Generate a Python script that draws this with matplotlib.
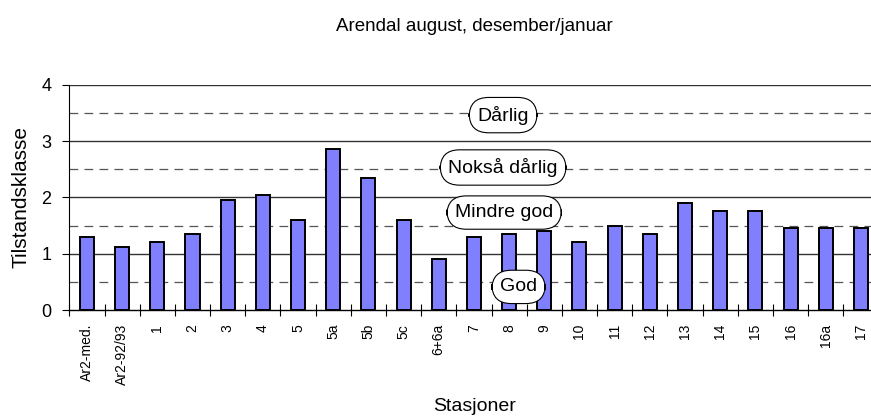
import matplotlib
matplotlib.use("Agg")
import matplotlib.pyplot as plt
import numpy as np

plt.rcParams['font.family'] = ['Liberation Sans', 'DejaVu Sans']

stations = ['Ar2-med.', 'Ar2-92/93', '1', '2', '3', '4', '5', '5a', '5b', '5c',
            '6+6a', '7', '8', '9', '10', '11', '12', '13', '14', '15', '16',
            '16a', '17']
values = [1.3, 1.12, 1.2, 1.35, 1.95, 2.05, 1.6, 2.85, 2.35, 1.6,
          0.9, 1.3, 1.35, 1.4, 1.2, 1.5, 1.35, 1.9, 1.75, 1.75, 1.45,
          1.45, 1.45]

class_names = ['God', 'Mindre god', 'Nokså dårlig', 'Dårlig']
class_x = [12.27, 11.86, 11.83, 11.83]
class_y = [0.41, 1.73, 2.53, 3.46]


def main():
    fig = plt.figure(figsize=(8.71, 4.16), dpi=100)
    ax = fig.add_axes([0.0796, 0.2548, 0.929, 0.5416])

    x = np.arange(len(stations))

    # class boundaries (dashed) and whole numbers (solid)
    for y in [0.5, 1.5, 2.5, 3.5]:
        ax.axhline(y, color='#555555', lw=0.9, ls=(0, (7, 5)), zorder=1)
    for y in [1, 2, 3, 4]:
        ax.axhline(y, color='#333333', lw=1.0, zorder=1)

    ax.bar(x, values, width=0.4, color='#8080FF', edgecolor='black',
           linewidth=1.4, zorder=3)

    for name, cx, cy in zip(class_names, class_x, class_y):
        ax.text(cx, cy, name, ha='center', va='center', fontsize=14, zorder=5,
                bbox=dict(boxstyle='round,pad=0.42,rounding_size=1.0',
                          fc='white', ec='black', lw=0.8))

    ax.set_xlim(-0.5, len(stations) - 0.5)
    ax.set_ylim(0, 4)

    ax.set_xticks(x)
    ax.set_xticklabels(stations, rotation=90, fontsize=10, va='top')
    ax.set_xticks(np.arange(len(stations) + 1) - 0.5, minor=True)
    ax.tick_params(axis='x', which='major', length=0, pad=10)
    ax.tick_params(axis='x', which='minor', length=9, direction='inout',
                   width=0.8)
    ax.set_yticks([0, 1, 2, 3, 4])
    ax.tick_params(axis='y', length=5, width=0.8, labelsize=13, pad=8)

    for s in ['top', 'right']:
        ax.spines[s].set_visible(False)
    ax.spines['left'].set_linewidth(0.8)
    ax.spines['bottom'].set_linewidth(1.0)

    ax.set_ylabel('Tilstandsklasse', fontsize=15, labelpad=8)
    fig.text(0.545, 0.936, 'Arendal august, desember/januar', ha='center',
             va='center', fontsize=13.5)
    fig.text(0.545, 0.022, 'Stasjoner', ha='center', va='center', fontsize=14)

    fig.savefig('out.png', dpi=100)


main()
